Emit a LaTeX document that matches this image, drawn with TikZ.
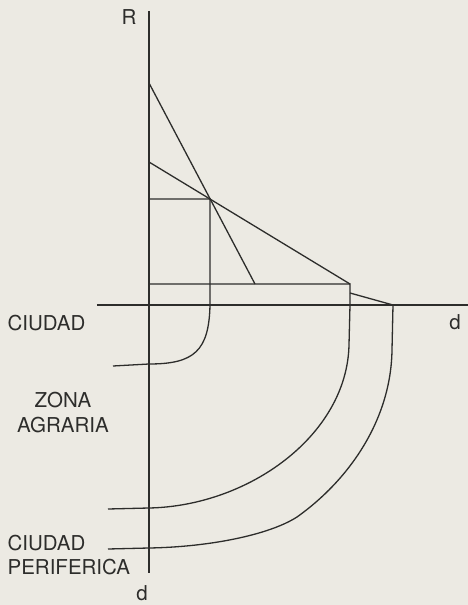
\documentclass[tikz,border=0pt]{standalone}
\usepackage{fontspec}
\setmainfont{TeX Gyre Heros}
\definecolor{ink}{RGB}{45,45,43}
\definecolor{paper}{RGB}{236,234,227}
\begin{document}
\begin{tikzpicture}[x=10pt,y=10pt,line width=1.3pt,
  lbl/.style={font=\fontsize{20.5}{24.5}\selectfont,text=ink,inner sep=0pt}]
  % Page
  \fill[paper] (-14.9,-30.0) rectangle (31.9,30.5);
  \useasboundingbox (-14.9,-30.0) rectangle (31.9,30.5);

  % Axes
  \draw[ink] (0,29.4) -- (0,-26.8);
  \draw[ink] (-5.2,0) -- (31.9,0);
  \node[lbl] (R) at (-2.0,28.8) {R};
  \node[lbl] (dx) at (30.6,-1.7) {d};
  \node[lbl] (dy) at (-0.7,-28.8) {d};

  % Rent lines
  \draw[ink] (0,22.2) -- (10.6,2.1);
  \draw[ink] (0,14.3) -- (20.1,2.1);
  \draw[ink] (20.1,1.2) -- (24.4,0);

  % City
  \draw[ink] (0,10.6) -- (6.1,10.6) -- (6.1,0)
    .. controls (6.0,-4.6) and (4.5,-5.9) .. (0,-5.9) -- (-3.6,-6.1);

  % Agrarian zone
  \draw[ink] (0,2.1) -- (20.1,2.1) -- (20.1,0) -- (20.0,-4.0)
    .. controls (19.8,-13.0) and (10.0,-20.1) .. (0,-20.3) -- (-4.1,-20.4);

  % Peripheral city
  \draw[ink] (24.4,0) -- (24.3,-4.5)
    .. controls (24.2,-11.5) and (20.0,-17.5) .. (14.8,-21.2)
    .. controls (12.0,-23.0) and (6.0,-24.2) .. (0,-24.3) -- (-4.1,-24.4);

  % Zone labels
  \node[lbl,anchor=west] (ciudad) at (-14.2,-1.8) {CIUDAD};
  \node[lbl,align=center] (zona) at (-8.6,-10.75) {ZONA\\AGRARIA};
  \node[lbl,anchor=west,align=left] (perif) at (-14.2,-25.0) {CIUDAD\\PERIFERICA};
\end{tikzpicture}
\end{document}
